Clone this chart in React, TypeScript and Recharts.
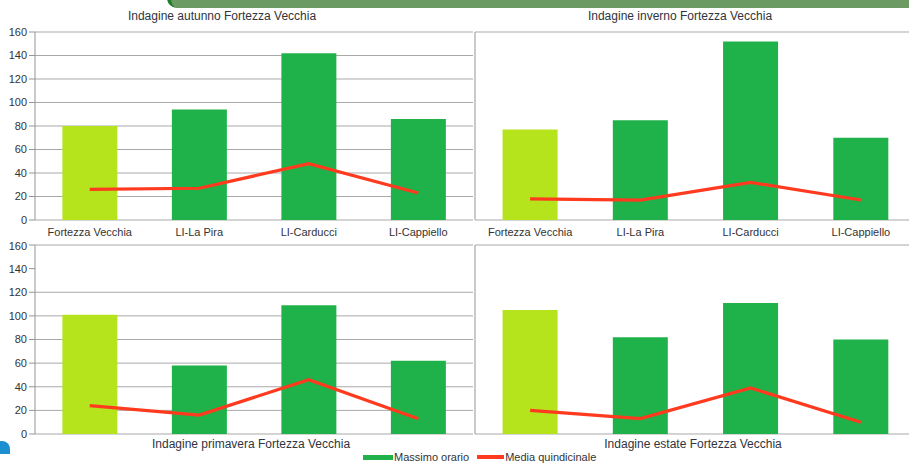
import React from 'react';
import { ComposedChart, Bar, Line, XAxis, YAxis, CartesianGrid, Cell } from 'recharts';

// Stations surveyed
const categories = ['Fortezza Vecchia', 'LI-La Pira', 'LI-Carducci', 'LI-Cappiello'];

// Seasonal surveys: hourly maximum and fortnightly mean
const autunnoMax = [80, 94, 142, 86];
const autunnoMedia = [26, 27, 48, 23];
const invernoMax = [77, 85, 152, 70];
const invernoMedia = [18, 17, 32, 17];
const primaveraMax = [101, 58, 109, 62];
const primaveraMedia = [24, 16, 46, 13];
const estateMax = [105, 82, 111, 80];
const estateMedia = [20, 13, 39, 10];

const yTicks = [0, 20, 40, 60, 80, 100, 120, 140, 160];
const boundaryTicks = [0, 1, 2, 3, 4];

const seriesNames = ['Massimo orario', 'Media quindicinale'];

const LIME = '#b5e31c';
const GREEN = '#20b24a';
const RED = '#ff3a1e';
const GRID = '#a9a9a9';
const AXIS = '#959595';
const TEXT = '#333';
const FONT = '"Liberation Sans", Arial, sans-serif';

type PanelProps = {
  max: number[];
  media: number[];
  left: number;
  top: number;
  width: number;
  height: number;
  margin: { top: number; right: number; bottom: number; left: number };
  showYLabels: boolean;
  showXLabels: boolean;
  rightBorder: boolean;
};

function Panel({ max, media, left, top, width, height, margin, showYLabels, showXLabels, rightBorder }: PanelProps) {
  const data = categories.map((name, i) => ({ name, massimo: max[i], media: media[i], pos: i + 0.5 }));
  return (
    <div style={{ position: 'absolute', left, top }}>
      <ComposedChart width={width} height={height} data={data} margin={margin} barCategoryGap="25%">
        <CartesianGrid vertical={false} stroke={GRID} strokeWidth={1} />
        <XAxis
          xAxisId="b"
          type="number"
          dataKey="pos"
          domain={[0, 4]}
          ticks={boundaryTicks}
          tickFormatter={() => ''}
          height={0}
          tickSize={4}
          axisLine={{ stroke: AXIS }}
          tickLine={{ stroke: AXIS }}
        />
        <XAxis
          dataKey="name"
          hide={!showXLabels}
          height={20}
          axisLine={false}
          tickLine={false}
          tickSize={6}
          tick={{ fill: TEXT, fontSize: 11, fontFamily: FONT }}
          interval={0}
        />
        <YAxis
          domain={[0, 160]}
          ticks={yTicks}
          width={35}
          axisLine={{ stroke: AXIS }}
          tickLine={showYLabels ? { stroke: AXIS } : false}
          tick={showYLabels ? { fill: TEXT, fontSize: 11, fontFamily: FONT } : false}
          tickSize={6}
          tickMargin={2}
        />
        {rightBorder && (
          <YAxis yAxisId="r" orientation="right" domain={[0, 160]} width={0} tick={false} tickLine={false} axisLine={{ stroke: AXIS }} />
        )}
        <Bar dataKey="massimo" name={seriesNames[0]} isAnimationActive={false}>
          {data.map((d, i) => (
            <Cell key={d.name} fill={i === 0 ? LIME : GREEN} />
          ))}
        </Bar>
        <Line
          dataKey="media"
          name={seriesNames[1]}
          type="linear"
          stroke={RED}
          strokeWidth={3.2}
          dot={false}
          isAnimationActive={false}
        />
      </ComposedChart>
    </div>
  );
}

const titleStyle: React.CSSProperties = {
  position: 'absolute',
  fontFamily: FONT,
  fontSize: 12,
  color: '#2f3440',
  whiteSpace: 'nowrap',
  transform: 'translate(-50%, -50%)',
};

export default function App() {
  return (
    <div
      style={{
        position: 'absolute',
        left: 0,
        top: 0,
        width: 909,
        height: 466,
        overflow: 'hidden',
        background: '#fff',
        fontFamily: FONT,
      }}
    >
      {/* header band */}
      <div
        style={{
          position: 'absolute',
          left: 167,
          top: -6,
          width: 760,
          height: 14,
          background: '#6b9a62',
          borderLeft: '4px solid #1f7a2a',
          borderBottomLeftRadius: 10,
        }}
      />
      {/* corner mark */}
      <div
        style={{
          position: 'absolute',
          left: -10,
          top: 441,
          width: 20,
          height: 13,
          background: '#1c8fd0',
          borderTopRightRadius: 8,
        }}
      />

      <Panel
        max={autunnoMax}
        media={autunnoMedia}
        left={0}
        top={0}
        width={476}
        height={240}
        margin={{ top: 32, right: 3, bottom: 0, left: 0 }}
        showYLabels
        showXLabels
        rightBorder
      />
      <Panel
        max={invernoMax}
        media={invernoMedia}
        left={440}
        top={0}
        width={476}
        height={240}
        margin={{ top: 32, right: 0, bottom: 0, left: 0 }}
        showYLabels={false}
        showXLabels
        rightBorder={false}
      />
      <Panel
        max={primaveraMax}
        media={primaveraMedia}
        left={0}
        top={240}
        width={476}
        height={226}
        margin={{ top: 5, right: 3, bottom: 32, left: 0 }}
        showYLabels
        showXLabels={false}
        rightBorder
      />
      <Panel
        max={estateMax}
        media={estateMedia}
        left={440}
        top={240}
        width={476}
        height={226}
        margin={{ top: 5, right: 0, bottom: 32, left: 0 }}
        showYLabels={false}
        showXLabels={false}
        rightBorder={false}
      />

      <div style={{ ...titleStyle, left: 222, top: 16 }}>Indagine autunno Fortezza Vecchia</div>
      <div style={{ ...titleStyle, left: 680, top: 16 }}>Indagine inverno Fortezza Vecchia</div>
      <div style={{ ...titleStyle, left: 251, top: 444 }}>Indagine primavera Fortezza Vecchia</div>
      <div style={{ ...titleStyle, left: 693, top: 444 }}>Indagine estate Fortezza Vecchia</div>

      {/* legend */}
      <div
        style={{
          position: 'absolute',
          left: 363,
          top: 451,
          display: 'flex',
          alignItems: 'center',
          fontSize: 11,
          color: TEXT,
          whiteSpace: 'nowrap',
        }}
      >
        <span style={{ display: 'inline-block', width: 30, height: 5, background: GREEN }} />
        <span style={{ marginLeft: 1 }}>{seriesNames[0]}</span>
        <span style={{ display: 'inline-block', width: 27, height: 4, background: RED, marginLeft: 8 }} />
        <span style={{ marginLeft: 1 }}>{seriesNames[1]}</span>
      </div>
    </div>
  );
}
